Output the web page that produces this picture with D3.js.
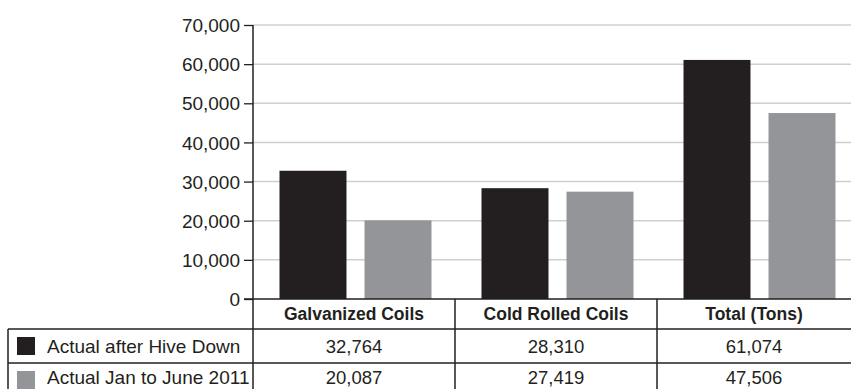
<!DOCTYPE html>
<html><head><meta charset="utf-8">
<script src="https://cdn.jsdelivr.net/npm/d3@7"></script>
<style>body{margin:0;background:#fff}svg{display:block;font-family:"Liberation Sans",Arial,sans-serif}</style>
</head><body><svg id="c" width="851" height="389"></svg>
<script>
const categories = ["Galvanized Coils", "Cold Rolled Coils", "Total (Tons)"];
const seriesNames = ["Actual after Hive Down", "Actual Jan to June 2011"];
const afterHiveDown = [32764, 28310, 61074];
const janToJune2011 = [20087, 27419, 47506];
const yTicks = [0, 10000, 20000, 30000, 40000, 50000, 60000, 70000];
const colors = ["#231f20", "#939598"];
const seriesValues = [afterHiveDown, janToJune2011];

const svg = d3.select("#c");
const y = d3.scaleLinear().domain([0, 70000]).range([299, 25]);
const x0 = d3.scaleBand().domain(categories).range([253, 859]).padding(0);
const x1 = d3.scaleBand().domain(seriesNames).range([26.5, 178.5]).paddingInner(0.212).paddingOuter(0);
const fmt = d3.format(",");

// gridlines
svg.append("g").selectAll("line").data(yTicks.filter(d => d > 0)).join("line")
  .attr("x1", 253).attr("x2", 851).attr("y1", d => y(d)).attr("y2", d => y(d))
  .attr("stroke", "#cfcfcf").attr("stroke-width", 1.5);

// bars
categories.forEach((c, i) => {
  svg.append("g").selectAll("rect").data(seriesNames).join("rect")
    .attr("x", s => x0(c) + x1(s)).attr("width", x1.bandwidth())
    .attr("y", (s, j) => y(seriesValues[j][i]))
    .attr("height", (s, j) => y(0) - y(seriesValues[j][i]))
    .attr("fill", (s, j) => colors[j]);
});

// y axis
const yAxis = d3.axisLeft(y).tickValues(yTicks).tickFormat(fmt).tickSize(9).tickPadding(4);
const ga = svg.append("g").attr("transform", "translate(253,0)").call(yAxis);
ga.select(".domain").remove();
ga.selectAll(".tick line").attr("stroke", "#231f20").attr("stroke-width", 1.3);
ga.selectAll(".tick text").attr("font-size", 19).attr("fill", "#231f20").attr("font-family", "Liberation Sans, Arial, sans-serif").attr("dy", "0.35em");

const lineCol = "#231f20";
function ln(x1_, y1_, x2_, y2_) {
  svg.append("line").attr("x1", x1_).attr("y1", y1_).attr("x2", x2_).attr("y2", y2_)
    .attr("stroke", lineCol).attr("stroke-width", 1.5);
}
// axis line
ln(253, 25, 253, 389);
// baseline
ln(244, 299, 851, 299);
// table rows
const rowTop = [329, 363];
const textOff = [24, 21];
ln(8, 329, 851, 329);
ln(8, 363, 851, 363);
ln(8, 329, 8, 389);
categories.forEach((c, i) => { if (i > 0) ln(x0(c), 299, x0(c), 389); });

// header
svg.append("g").selectAll("text").data(categories).join("text")
  .attr("x", d => x0(d) + x0.bandwidth() / 2 - (d === "Total (Tons)" ? 4 : 0)).attr("y", 320)
  .attr("text-anchor", "middle").attr("font-weight", "bold").attr("font-size", 17.5)
  .attr("fill", "#231f20").text(d => d);

// rows
seriesNames.forEach((s, j) => {
  const top = rowTop[j];
  svg.append("rect").attr("x", 17).attr("y", top + 8).attr("width", 18).attr("height", 18).attr("fill", colors[j]);
  svg.append("text").attr("x", 47).attr("y", top + textOff[j]).attr("font-size", 19).attr("fill", "#231f20").text(s);
  svg.append("g").selectAll("text").data(categories).join("text")
    .attr("x", c => x0(c) + x0.bandwidth() / 2 - (c === "Total (Tons)" ? 4 : 0)).attr("y", top + textOff[j])
    .attr("text-anchor", "middle").attr("font-size", 18.5).attr("fill", "#231f20")
    .text((c, i) => fmt(seriesValues[j][i]));
});
</script></body></html>
